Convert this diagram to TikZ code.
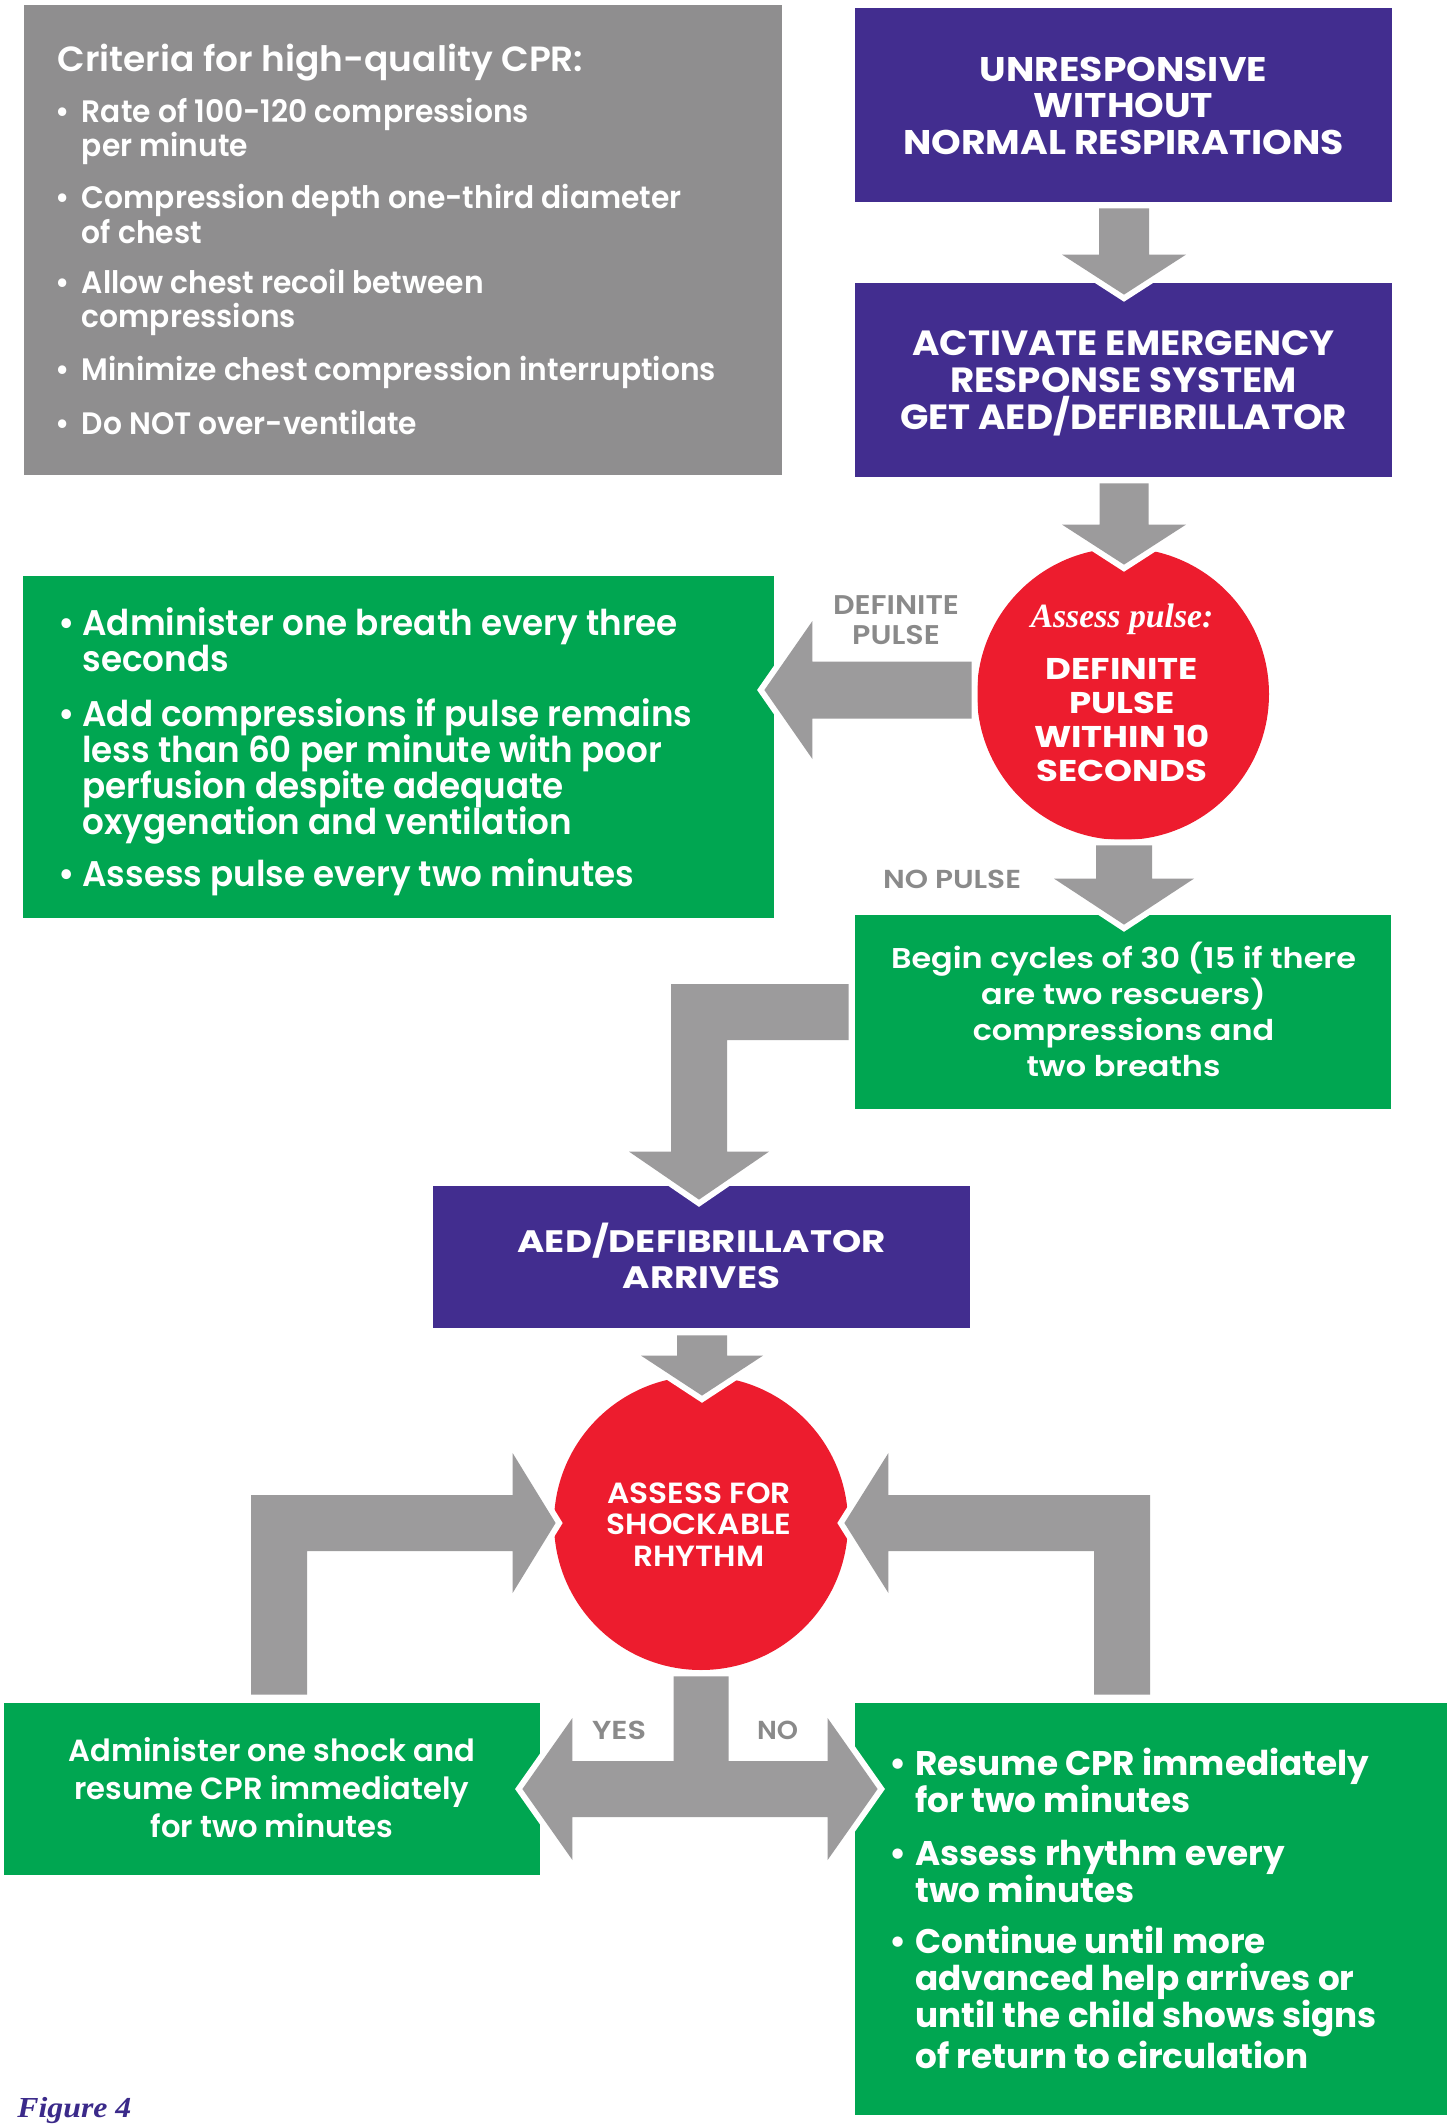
\documentclass[tikz,border=0pt]{standalone}
\usepackage{fontspec}
\usepackage{graphicx}
\usetikzlibrary{calc}

% Geometric sans for all flowchart text
\IfFontExistsTF{Poppins SemiBold}
  {\newfontfamily\gthsb{Poppins SemiBold}\newcommand\gth{\gthsb}}
  {\newfontfamily\gthrg{Poppins}\newcommand\gth{\gthrg\bfseries}}
\newfontfamily\gthbase{Poppins}
\newcommand\gthb{\gthbase\bfseries}
\newfontfamily\tnr{Liberation Serif}

\definecolor{cprpurple}{HTML}{422D8F}
\definecolor{cprgreen}{HTML}{00A651}
\definecolor{cprred}{HTML}{ED1C2E}
\definecolor{panelgrey}{HTML}{8F8E8F}
\definecolor{arrowgrey}{HTML}{9C9B9C}
\definecolor{labelgrey}{HTML}{8A8A8A}
\definecolor{figpurple}{HTML}{3B2A8A}

\newlength\natw
\newlength\dotwidth
\newcommand\fsz[2]{\fontsize{#1}{#2}\selectfont}
\newcommand\itemdot{\hbox to\dotwidth{\textbullet\hfil}}
\newcommand\itemgap{\kern\dotwidth}
% centred block of lines, squeezed horizontally so that the reference line gets the given width (px)
\newcommand\cblock[4]{{#1\settowidth\natw{#3}\pgfmathsetmacro\fitr{#2*0.5/\natw}%
  \scalebox{\fitr}[1]{\vtop{\lineskiplimit=-\maxdimen\lineskip=0pt\halign{\hfil##\hfil\cr#4\crcr}}}}}
% left-aligned bullet block; #4 = bullet indent (px)
\newcommand\lblock[5]{{#1\settowidth\natw{#3}\pgfmathsetmacro\fitr{#2*0.5/\natw}%
  \pgfmathsetlength\dotwidth{#4*0.5pt/\fitr}%
  \scalebox{\fitr}[1]{\vtop{\lineskiplimit=-\maxdimen\lineskip=0pt\halign{##\hfil\cr#5\crcr}}}}}

% broad block arrows: start point, tip, shaft half width, head half width, head length
\newcommand\fatdown[5]{\path[fatarrow] ($(#1)+(-#3,0)$) -- ($(#1)+(#3,0)$) -- ($(#2)+(#3,-#5)$) -- ($(#2)+(#4,-#5)$) -- (#2) -- ($(#2)+(-#4,-#5)$) -- ($(#2)+(-#3,-#5)$) -- cycle;}
\newcommand\fatleft[5]{\path[fatarrow] ($(#1)+(0,-#3)$) -- ($(#2)+(#5,-#3)$) -- ($(#2)+(#5,-#4)$) -- (#2) -- ($(#2)+(#5,#4)$) -- ($(#2)+(#5,#3)$) -- ($(#1)+(0,#3)$) -- cycle;}

\tikzset{
  panel/.style={rectangle, inner sep=0pt, draw=none},
  disc/.style={circle, fill=cprred, inner sep=0pt, draw=none},
  fatarrow/.style={fill=arrowgrey, preaction={fill=white, draw=white, line width=6pt, line join=miter}},
  txt/.style={inner sep=0pt, text=white},
  lbl/.style={inner sep=0pt, text=labelgrey},
}

\begin{document}
\begin{tikzpicture}[x=0.5pt,y=-0.5pt]
\fill[white] (0,0) rectangle (1451,2126);
\useasboundingbox (0,0) rectangle (1451,2126);

% ---------- panels ----------
\node[panel, fill=panelgrey, minimum width=379pt, minimum height=235pt] (crit) at (403,240) {};
\node[panel, fill=cprpurple, minimum width=268.5pt, minimum height=97pt] (p1) at (1123.5,105) {};
\node[panel, fill=cprpurple, minimum width=268.5pt, minimum height=97pt] (p2) at (1123.5,380) {};
\node[panel, fill=cprgreen, minimum width=375.5pt, minimum height=171pt] (g1) at (398.5,747) {};
\node[disc, minimum size=146pt] (c1) at (1123,694) {};
\node[panel, fill=cprgreen, minimum width=268pt, minimum height=97pt] (g2) at (1123,1012) {};
\node[panel, fill=cprpurple, minimum width=268.5pt, minimum height=71pt] (p3) at (701.5,1257) {};
\node[disc, minimum size=147pt] (c2) at (701,1523) {};
\node[panel, fill=cprgreen, minimum width=268pt, minimum height=86pt] (g3) at (272,1789) {};
\node[panel, fill=cprgreen, minimum width=296pt, minimum height=206pt] (g4) at (1151,1909) {};

% ---------- block arrows ----------
\coordinate (a1s) at ($(p1.south)+(0.5,6)$);
\coordinate (a1t) at ($(p2.north)+(0.5,12)$);
\fatdown{a1s}{a1t}{25}{62}{40}

\coordinate (a2s) at ($(p2.south)+(0.5,6)$);
\coordinate (a2t) at ($(c1.north)+(1,17)$);
\fatdown{a2s}{a2t}{24.5}{62}{40}

\coordinate (a3s) at ($(c1.west)+(-5,-4)$);
\coordinate (a3t) at ($(g1.east)+(-10,-57)$);
\fatleft{a3s}{a3t}{28.5}{69}{48}

\coordinate (a4s) at ($(c1.south)+(1,5)$);
\coordinate (a4t) at ($(g2.north)+(1,10)$);
\fatdown{a4s}{a4t}{28}{70}{46}

% elbow from the cycles box down to the AED box
\coordinate (a5s) at ($(g2.west)+(-6,0)$);
\coordinate (a5t) at ($(p3.north)+(-2.5,14)$);
\coordinate (a5c) at (a5t |- a5s);
\path[fatarrow] ($(a5s)+(0,-28)$) -- ($(a5c)+(-28,-28)$) -- ($(a5t)+(-28,-48)$) -- ($(a5t)+(-70,-48)$) -- (a5t)
  -- ($(a5t)+(70,-48)$) -- ($(a5t)+(28,-48)$) -- ($(a5c)+(28,28)$) -- ($(a5s)+(0,28)$) -- cycle;

\coordinate (a6s) at ($(p3.south)+(0.5,7)$);
\coordinate (a6t) at ($(c2.north)+(1,20)$);
\fatdown{a6s}{a6t}{25}{61}{40}

% loops back to the rhythm check
\coordinate (a7s) at ($(g3.north)+(7,-8)$);
\coordinate (a7t) at ($(c2.west)+(2,0)$);
\coordinate (a7c) at (a7s |- a7t);
\path[fatarrow] ($(a7s)+(-28,0)$) -- ($(a7c)+(-28,-28)$) -- ($(a7t)+(-43,-28)$) -- ($(a7t)+(-43,-70)$) -- (a7t)
  -- ($(a7t)+(-43,70)$) -- ($(a7t)+(-43,28)$) -- ($(a7c)+(28,28)$) -- ($(a7s)+(28,0)$) -- cycle;

\coordinate (a8s) at ($(g4.north)+(-29,-8)$);
\coordinate (a8t) at ($(c2.east)+(-4,0)$);
\coordinate (a8c) at (a8s |- a8t);
\path[fatarrow] ($(a8s)+(28,0)$) -- ($(a8c)+(28,-28)$) -- ($(a8t)+(44,-28)$) -- ($(a8t)+(44,-70)$) -- (a8t)
  -- ($(a8t)+(44,70)$) -- ($(a8t)+(44,28)$) -- ($(a8c)+(-28,28)$) -- ($(a8s)+(-28,0)$) -- cycle;

% yes / no split
\coordinate (a9s) at ($(c2.south)+(0,6)$);
\coordinate (a9l) at ($(g3.east)+(-18,0)$);
\coordinate (a9r) at ($(g4.west)+(23,-120)$);
\coordinate (a9c) at (a9s |- a9l);
\path[fatarrow] ($(a9s)+(-27.5,0)$) -- ($(a9s)+(27.5,0)$) -- ($(a9c)+(27.5,-28)$) -- ($(a9r)+(-50,-28)$)
  -- ($(a9r)+(-50,-71)$) -- (a9r) -- ($(a9r)+(-50,71)$) -- ($(a9r)+(-50,28)$) -- ($(a9l)+(50,28)$)
  -- ($(a9l)+(50,71)$) -- (a9l) -- ($(a9l)+(50,-71)$) -- ($(a9l)+(50,-28)$) -- ($(a9c)+(-27.5,-28)$) -- cycle;

% ---------- texts ----------
\node[txt, anchor=base west] (critT) at (57,71)
  {\cblock{\gth\fsz{17.5}{20}}{526}{Criteria for high-quality CPR:}{Criteria for high-quality CPR:}};
\node[txt, anchor=base west] (critL) at (55,122)
  {\lblock{\gth\fsz{15.5}{17.25}}{634}{Minimize chest compression interruptions}{26.5}{%
   \itemdot Rate of 100-120 compressions\cr
   \itemgap per minute\cr\noalign{\vskip8.75pt}
   \itemdot Compression depth one-third diameter\cr
   \itemgap of chest\cr\noalign{\vskip7.75pt}
   \itemdot Allow chest recoil between\cr
   \itemgap compressions\cr\noalign{\vskip9.25pt}
   \itemdot Minimize chest compression interruptions\cr\noalign{\vskip9.5pt}
   \itemdot Do NOT over-ventilate}};

\node[txt, anchor=base] (p1T) at (1123.5,81)
  {\cblock{\gthb\fsz{17.1}{18.25}}{441}{NORMAL RESPIRATIONS}{UNRESPONSIVE\cr WITHOUT\cr NORMAL RESPIRATIONS}};
\node[txt, anchor=base] (p2T) at (1123.5,355)
  {\cblock{\gthb\fsz{17.5}{18.5}}{447}{GET AED/DEFIBRILLATOR}{ACTIVATE EMERGENCY\cr RESPONSE SYSTEM\cr GET AED/DEFIBRILLATOR}};

\node[txt, anchor=base west] (g1L) at (58,635)
  {\lblock{\gth\fsz{17.8}{18}}{610}{Add compressions if pulse remains}{24}{%
   \itemdot Administer one breath every three\cr
   \itemgap seconds\cr\noalign{\vskip9.5pt}
   \itemdot Add compressions if pulse remains\cr
   \itemgap less than 60 per minute with poor\cr
   \itemgap perfusion despite adequate\cr
   \itemgap oxygenation and ventilation\cr\noalign{\vskip8pt}
   \itemdot Assess pulse every two minutes}};

\node[txt, anchor=base] (c1I) at (1122,627)
  {\cblock{\tnr\bfseries\itshape\fsz{17}{17}}{183}{Assess pulse:}{Assess pulse:}};
\node[txt, anchor=base] (c1T) at (1122,679)
  {\cblock{\gthb\fsz{15}{17.15}}{176}{WITHIN 10}{DEFINITE\cr PULSE\cr WITHIN 10\cr SECONDS}};

\node[lbl, anchor=base] (lDef) at (896,614)
  {\cblock{\gth\fsz{13.5}{15}}{126}{DEFINITE}{DEFINITE\cr PULSE}};
\node[lbl, anchor=base] (lNo) at (952,888)
  {\cblock{\gth\fsz{13}{15}}{138}{NO PULSE}{NO PULSE}};

\node[txt, anchor=base] (g2T) at (1123.5,968.5)
  {\cblock{\gth\fsz{14.3}{18}}{465}{Begin cycles of 30 (15 if there}{Begin cycles of 30 (15 if there\cr are two rescuers)\cr compressions and\cr two breaths}};

\node[txt, anchor=base] (p3T) at (701.5,1252)
  {\cblock{\gthb\fsz{15.5}{18}}{368}{AED/DEFIBRILLATOR}{AED/DEFIBRILLATOR\cr ARRIVES}};

\node[txt, anchor=base] (c2T) at (699,1503)
  {\cblock{\gth\fsz{14.6}{15.75}}{184}{ASSESS FOR}{ASSESS FOR\cr SHOCKABLE\cr RHYTHM}};

\node[lbl, anchor=base] (lYes) at (619,1739) {\cblock{\gth\fsz{13}{15}}{54}{YES}{YES}};
\node[lbl, anchor=base] (lNoR) at (777.5,1739) {\cblock{\gth\fsz{13}{15}}{41}{NO}{NO}};

\node[txt, anchor=base] (g3T) at (272,1761)
  {\cblock{\gth\fsz{15.3}{19}}{407}{Administer one shock and}{Administer one shock and\cr resume CPR immediately\cr for two minutes}};

\node[txt, anchor=base west] (g4L) at (889,1775)
  {\lblock{\gthb\fsz{17.1}{18.5}}{454}{Resume CPR immediately}{26}{%
   \itemdot Resume CPR immediately\cr
   \itemgap for two minutes\cr\noalign{\vskip8pt}
   \itemdot Assess rhythm every\cr
   \itemgap two minutes\cr\noalign{\vskip7pt}
   \itemdot Continue until more\cr
   \itemgap advanced help arrives or\cr
   \itemgap until the child shows signs\cr\noalign{\vskip2pt}
   \itemgap of return to circulation}};

\node[inner sep=0pt, text=figpurple, anchor=base west] (fig) at (17,2117)
  {\cblock{\tnr\bfseries\itshape\fsz{14.5}{15}}{114}{Figure 4}{Figure 4}};
\end{tikzpicture}
\end{document}
